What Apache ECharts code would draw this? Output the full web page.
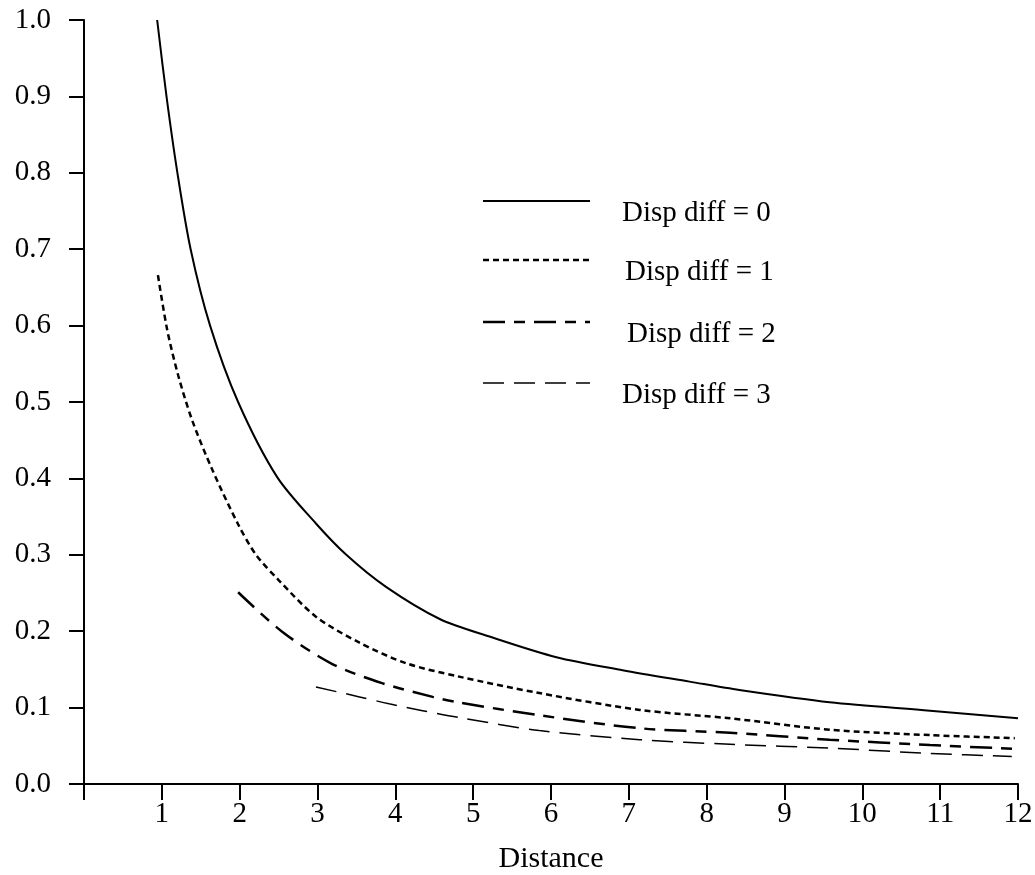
<!DOCTYPE html>
<html>
<head>
<meta charset="utf-8">
<script src="https://cdn.jsdelivr.net/npm/echarts@6/dist/echarts.min.js"></script>
<style>
  html, body { margin: 0; padding: 0; background: #fff; }
  #chart { width: 1035px; height: 875px; }
</style>
</head>
<body>
<div id="chart"></div>
<script>
// values: [distance, value]
var diff0 = [[0.94,1.0],[1.06,0.9],[1.2,0.8],[1.37,0.7],[1.62,0.6],[1.98,0.5],[2.48,0.402],[2.98,0.341],[3.37,0.3],[3.88,0.258],
    [4.57,0.216],[5.21,0.193],[6.07,0.166],[6.92,0.149],[7.78,0.134],[8.42,0.123],[9.58,0.107],[10.87,0.096],[12.0,0.086]];
var diff1 = [[0.95,0.666],[1.07,0.594],[1.21,0.535],[1.39,0.476],[1.65,0.411],[1.98,0.34],[2.21,0.3],[2.5,0.267],[2.98,0.219],
    [3.54,0.185],[4.14,0.158],[4.8,0.141],[5.85,0.119],[7.14,0.097],[8.3,0.086],[9.58,0.071],[10.87,0.064],[11.96,0.06]];
var diff2 = [[1.98,0.251],[2.55,0.199],[3.19,0.157],[3.83,0.132],[4.48,0.114],[4.8,0.107],[5.85,0.09],[7.14,0.073],[8.3,0.067],
    [9.58,0.058],[10.87,0.051],[11.96,0.046]];
var diff3 = [[2.98,0.127],[3.54,0.114],[3.92,0.105],[4.35,0.096],[4.82,0.087],[5.85,0.07],[7.14,0.058],[8.3,0.052],[9.58,0.047],
    [10.87,0.04],[11.92,0.036]];
var seriesNames = ['Disp diff = 0', 'Disp diff = 1', 'Disp diff = 2', 'Disp diff = 3'];

var font = 'Liberation Serif';
var styles = [
    {width: 2, type: 'solid'},
    {width: 2.5, type: [6, 4]},
    {width: 2.5, type: [22, 9, 11, 9]},
    {width: 1.5, type: [21, 10]}
];

var chart = echarts.init(document.getElementById('chart'));

// legend drawn by hand: line sample on the left, text a bit lower
var legendY = [201, 260, 322, 383];
var textX = [622, 625, 627, 622];
var graphics = [];
for (var i = 0; i < 4; i++) {
    graphics.push({
        type: 'line',
        shape: {x1: 483, y1: legendY[i], x2: 590, y2: legendY[i]},
        style: {stroke: '#000', lineWidth: styles[i].width, lineDash: styles[i].type === 'solid' ? null : styles[i].type}
    });
    graphics.push({
        type: 'text',
        x: textX[i],
        y: legendY[i] + 12,
        style: {text: seriesNames[i], fill: '#000', font: '29px "' + font + '"', verticalAlign: 'middle'}
    });
}

function makeSeries(name, data, st) {
    return {
        name: name,
        type: 'line',
        data: data,
        showSymbol: false,
        smooth: 0.3,
        lineStyle: {color: '#000', width: st.width, type: st.type},
        z: 3
    };
}

var option = {
    backgroundColor: '#fff',
    animation: false,
    textStyle: {fontFamily: font},
    grid: {left: 84, right: 17, top: 20, bottom: 91, containLabel: false, outerBoundsMode: 'none'},
    xAxis: {
        type: 'value',
        min: 0,
        max: 12,
        interval: 1,
        name: 'Distance',
        nameLocation: 'middle',
        nameGap: 60,
        nameTextStyle: {color: '#000', fontSize: 30, fontFamily: font},
        axisLine: {onZero: false, lineStyle: {color: '#000', width: 2}},
        axisTick: {length: 16, lineStyle: {color: '#000', width: 2}},
        axisLabel: {
            color: '#000', fontSize: 29, fontFamily: font, margin: 16,
            formatter: function (v) { return v === 0 ? '' : v; }
        },
        splitLine: {show: false}
    },
    yAxis: {
        type: 'value',
        min: 0,
        max: 1,
        interval: 0.1,
        axisLine: {show: true, lineStyle: {color: '#000', width: 2}},
        axisTick: {show: true, length: 15, lineStyle: {color: '#000', width: 2}},
        axisLabel: {
            color: '#000', fontSize: 29, fontFamily: font, margin: 33,
            formatter: function (v) { return v.toFixed(1); }
        },
        splitLine: {show: false}
    },
    graphic: graphics,
    series: [
        makeSeries(seriesNames[0], diff0, styles[0]),
        makeSeries(seriesNames[1], diff1, styles[1]),
        makeSeries(seriesNames[2], diff2, styles[2]),
        makeSeries(seriesNames[3], diff3, styles[3])
    ]
};
chart.setOption(option);
window.onresize = function () { chart.resize(); };
</script>
</body>
</html>
